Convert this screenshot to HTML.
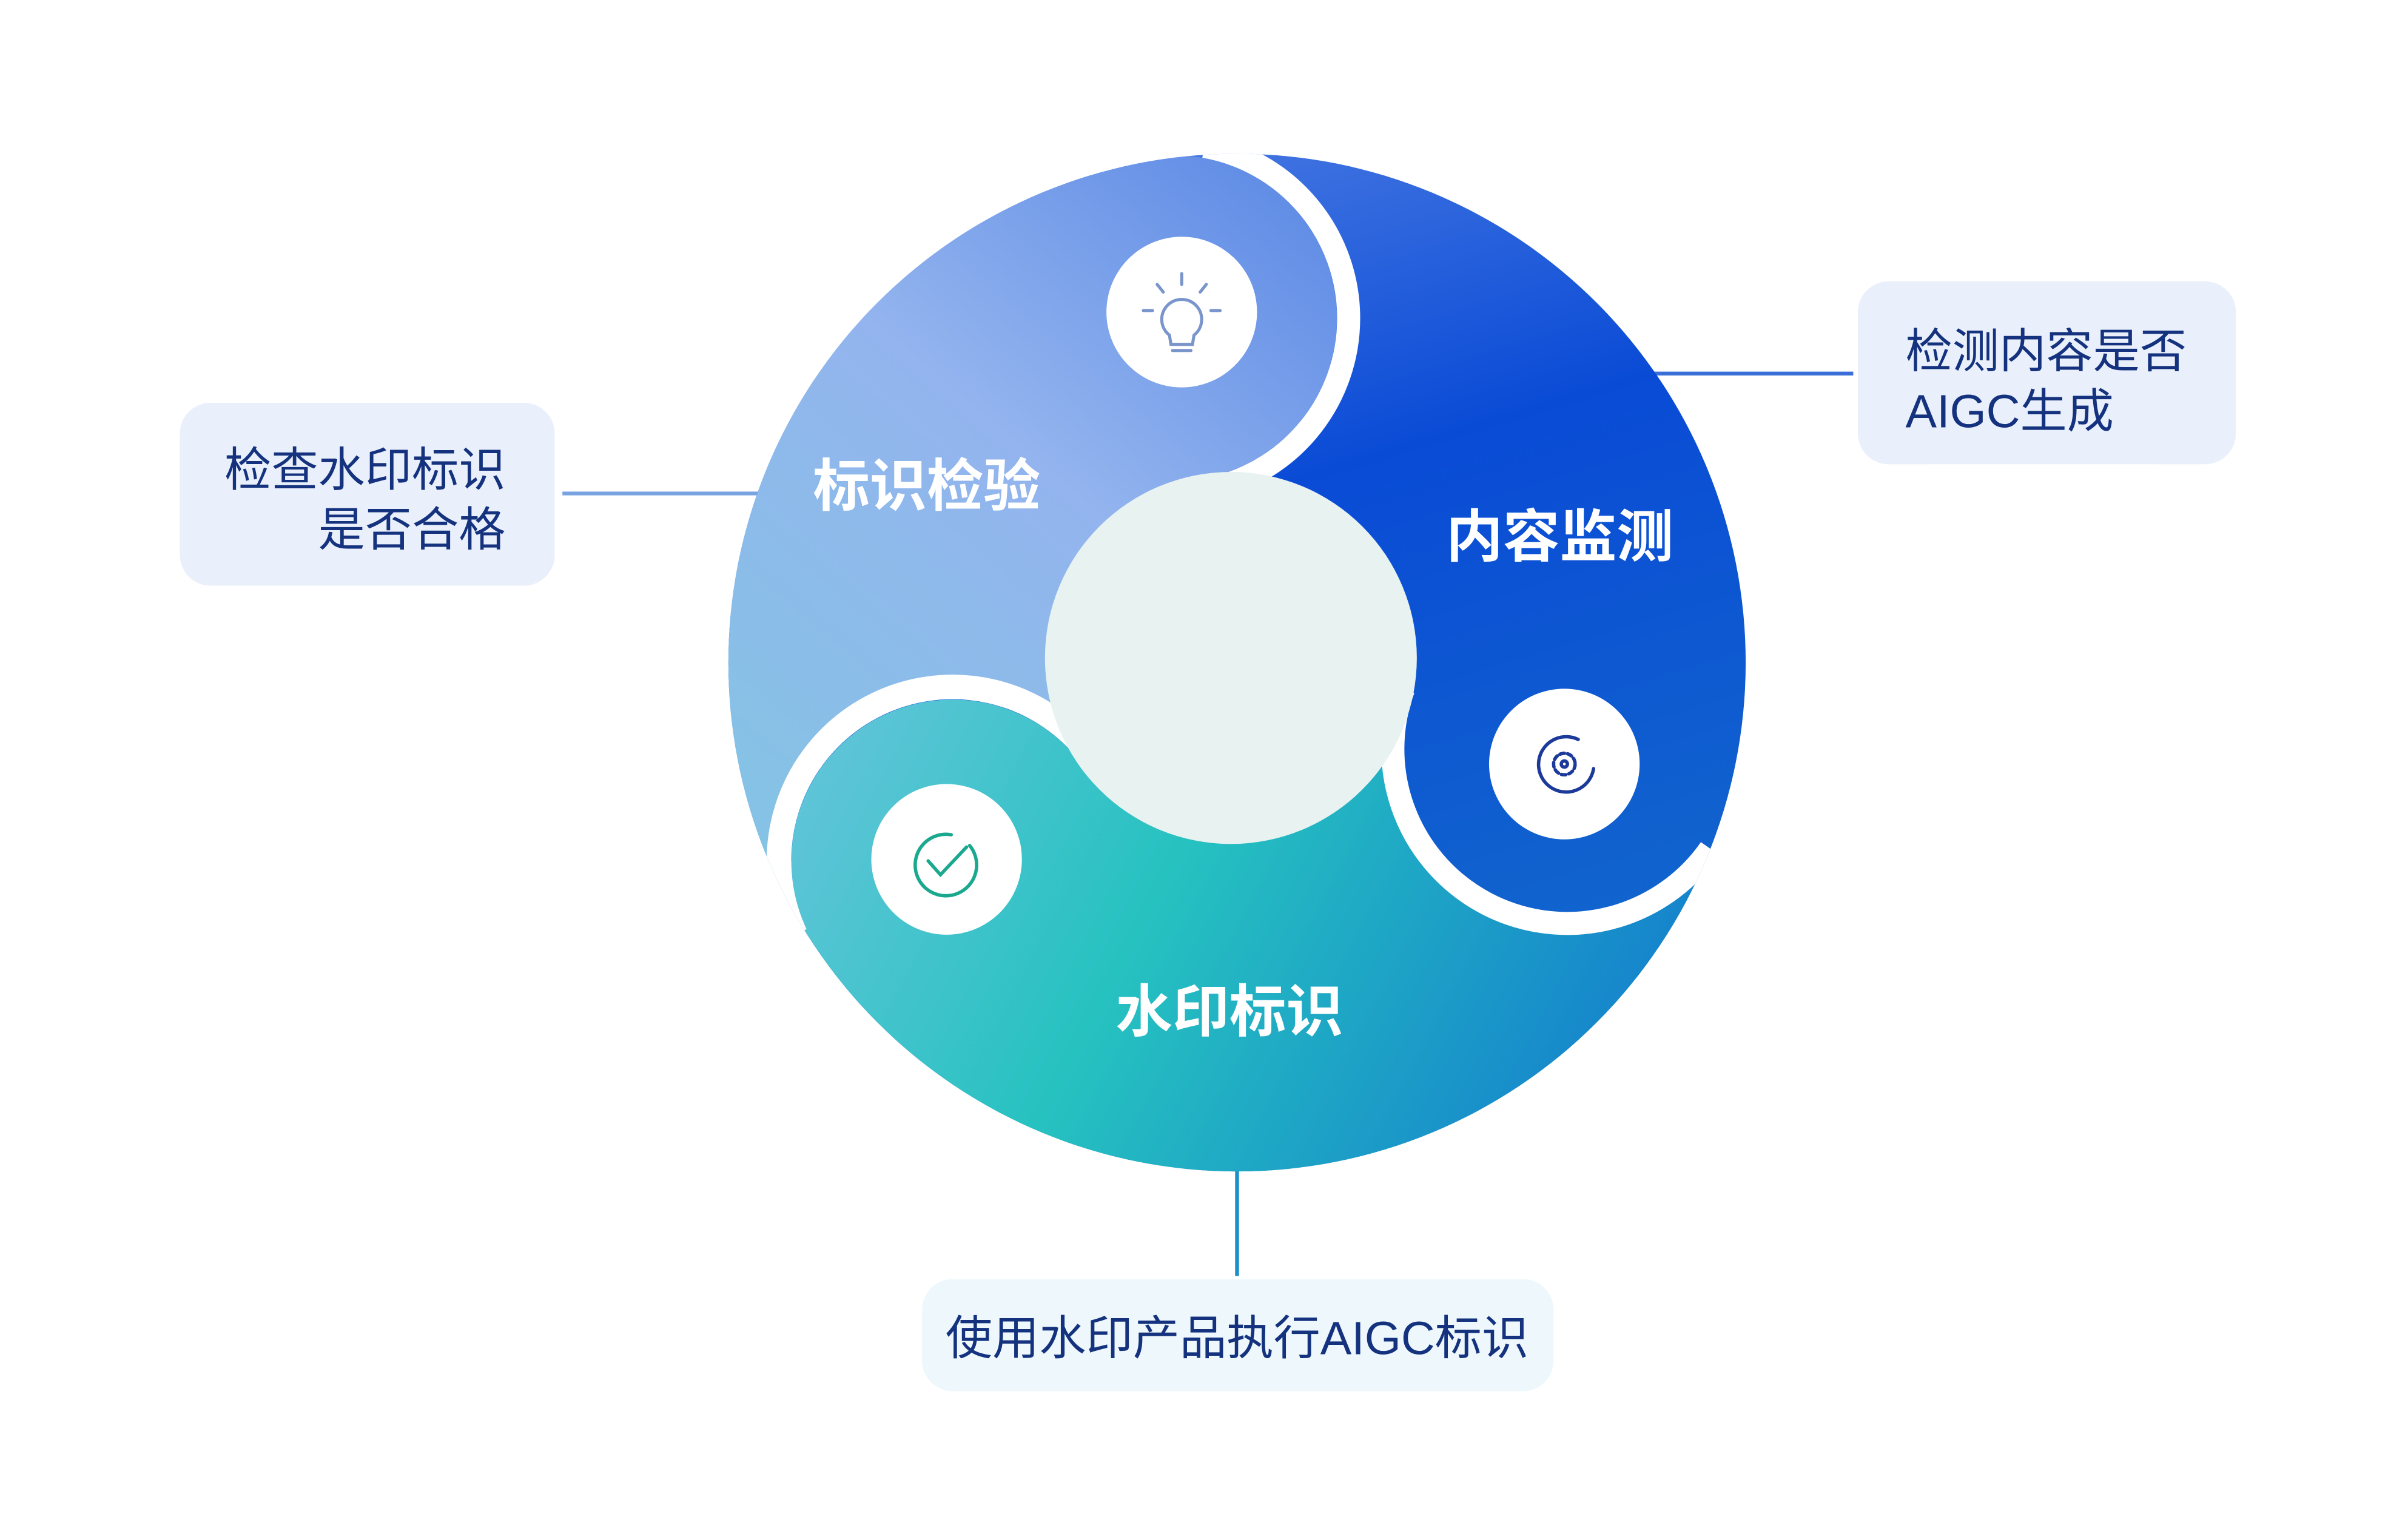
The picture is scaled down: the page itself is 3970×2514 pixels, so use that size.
<!DOCTYPE html>
<html><head><meta charset="utf-8"><style>
html,body{margin:0;padding:0;background:#fff;}
svg{display:block;}
text{font-family:"Liberation Sans","Noto Sans CJK SC",sans-serif;}
</style></head><body>
<svg width="3970" height="2514" viewBox="0 0 1567 992" preserveAspectRatio="none" xmlns="http://www.w3.org/2000/svg">
<defs>
<clipPath id="cc"><circle cx="805" cy="431" r="331"/></clipPath>
<linearGradient id="gB" x1="0" y1="0" x2="0.3" y2="1">
<stop offset="0" stop-color="#5a86e6"/><stop offset="0.45" stop-color="#0a4bd6"/><stop offset="1" stop-color="#1268cc"/></linearGradient>
<linearGradient id="gA" x1="1" y1="0" x2="0.2" y2="1">
<stop offset="0" stop-color="#4f7fe3"/><stop offset="0.5" stop-color="#93b4ee"/><stop offset="1" stop-color="#84c4e4"/></linearGradient>
<linearGradient id="gC" x1="0" y1="0.2" x2="1" y2="0.5">
<stop offset="0" stop-color="#7cc6e4"/><stop offset="0.45" stop-color="#26c2c0"/><stop offset="0.85" stop-color="#1584cc"/></linearGradient>
</defs>
<line x1="366" y1="321" x2="495" y2="321" stroke="#7aa3e2" stroke-width="2.5"/>
<line x1="1075" y1="243" x2="1206" y2="243" stroke="#3a6fd8" stroke-width="2.5"/>
<line x1="805" y1="760" x2="805" y2="830" stroke="#1b8fc8" stroke-width="2.5"/>
<g clip-path="url(#cc)">
<rect x="470" y="95" width="670" height="670" fill="url(#gB)"/>
<path d="M764,40 L764,101 A106,106 0 0 1 782.4,311.4 L805,431 L719.1,490.6 A121,121 0 0 0 499,560 L380,560 L380,40 Z" fill="url(#gA)"/>
<path d="M706,499.8 A105,105 0 0 0 515,560 L380,560 L380,900 L1200,900 L1200,640 L1119.1,556.4 A121,121 0 0 1 906.3,445.6 L805,431 Z" fill="url(#gC)"/>
<path d="M783.7,95.2 A113.5,113.5 0 0 1 783.7,318.8" fill="none" stroke="#fff" stroke-width="15"/>
<path d="M517.6,607.8 A113,113 0 0 1 712.6,495.2" fill="none" stroke="#fff" stroke-width="16"/>
<path d="M1113,552.1 A113.5,113.5 0 0 1 913.3,448.2" fill="none" stroke="#fff" stroke-width="15"/>
</g>
<circle cx="801" cy="428" r="121" fill="#e7f2f1"/>
<circle cx="769" cy="203" r="49" fill="#fff"/>
<circle cx="1018" cy="497" r="49" fill="#fff"/>
<circle cx="616" cy="559" r="49" fill="#fff"/>
<g fill="none" stroke="#7a95cc" stroke-width="2" stroke-linecap="round">
<path d="M761,218 A13,13 0 1 1 777,218 L776,224 L762,224 Z"/>
<line x1="763" y1="228" x2="775" y2="228"/>
<line x1="769" y1="178" x2="769" y2="185"/>
<line x1="753" y1="185" x2="757" y2="190"/><line x1="785" y1="185" x2="781" y2="190"/>
<line x1="744" y1="202" x2="750" y2="202"/><line x1="788" y1="202" x2="794" y2="202"/>
</g>
<g fill="none" stroke="#1c3a9a" stroke-width="2.2" stroke-linecap="round">
<path d="M1027,481 A18,18 0 1 0 1037,500"/>
<circle cx="1018" cy="497" r="7" stroke-dasharray="3 2"/>
<circle cx="1018" cy="497" r="2"/>
</g>
<g fill="none" stroke="#1aa88e" stroke-width="2.2" stroke-linecap="round">
<path d="M631,550 A20,20 0 1 1 619,543"/>
<path d="M604,560 L612,569 L629,551"/>
</g>
<text x="603" y="329" font-size="37" font-weight="bold" fill="#fff" text-anchor="middle">标识检验</text>
<text x="1015" y="362" font-size="37" font-weight="bold" fill="#fff" text-anchor="middle">内容监测</text>
<text x="800" y="671" font-size="37" font-weight="bold" fill="#fff" text-anchor="middle">水印标识</text>
<rect x="117" y="262" width="244" height="119" rx="20" fill="#eaf0fb"/>
<text x="329" y="316" font-size="30.5" fill="#14327e" text-anchor="end">检查水印标识</text>
<text x="329" y="355" font-size="30.5" fill="#14327e" text-anchor="end">是否合格</text>
<rect x="1209" y="183" width="246" height="119" rx="20" fill="#eaf0fb"/>
<text x="1240" y="239" font-size="30.5" fill="#14327e">检测内容是否</text>
<text x="1240" y="278" font-size="30.5" fill="#14327e">AIGC生成</text>
<rect x="600" y="832" width="411" height="73" rx="20" fill="#eef8fc"/>
<text x="805" y="881" font-size="30.5" fill="#14327e" text-anchor="middle">使用水印产品执行AIGC标识</text>
</svg>
</body></html>
